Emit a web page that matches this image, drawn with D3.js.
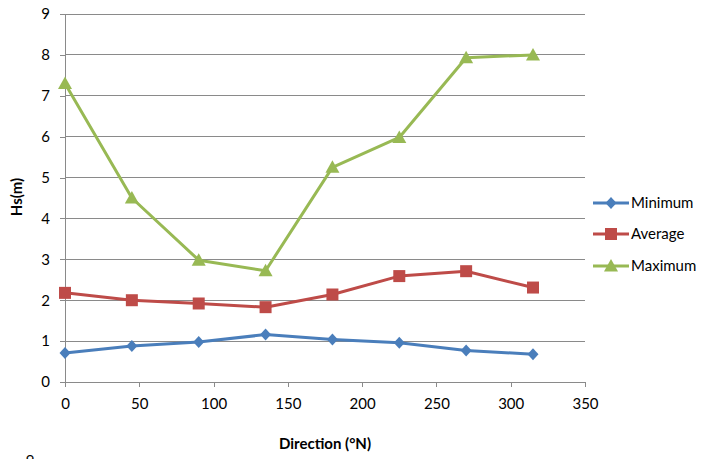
<!DOCTYPE html>
<html>
<head>
<meta charset="utf-8">
<script src="https://cdn.jsdelivr.net/npm/d3@7"></script>
<style>
  html, body { margin: 0; padding: 0; background: #fff; }
  svg { display: block; font-family: Lato, "Open Sans", sans-serif; }
</style>
</head>
<body>
<svg id="chart" width="708" height="459"></svg>
<script>
// Significant wave height by direction
const directions = [0, 45, 90, 135, 180, 225, 270, 315];
const minimum = [0.71, 0.88, 0.98, 1.16, 1.04, 0.96, 0.77, 0.68];
const average = [2.18, 2.00, 1.92, 1.83, 2.14, 2.59, 2.71, 2.31];
const maximum = [7.30, 4.50, 2.98, 2.72, 5.25, 5.98, 7.93, 8.00];
const seriesNames = ["Minimum", "Average", "Maximum"];
const seriesColors = ["#4A7EBB", "#BE4B48", "#98B954"];
const xTicks = [0, 50, 100, 150, 200, 250, 300, 350];
const yTicks = [0, 1, 2, 3, 4, 5, 6, 7, 8, 9];

const svg = d3.select("#chart");
const margin = { left: 65, right: 123, top: 14, bottom: 77 };
const W = 708, H = 459;

const x = d3.scaleLinear().domain([0, 350]).range([margin.left, W - margin.right]);
const y = d3.scaleLinear().domain([0, 9]).range([H - margin.bottom, margin.top]);

// horizontal gridlines
svg.append("g")
  .selectAll("line")
  .data(yTicks.filter(d => d > 0))
  .join("line")
  .attr("x1", x(0)).attr("x2", x(350))
  .attr("y1", d => y(d)).attr("y2", d => y(d))
  .attr("stroke", "#8a8a8a").attr("stroke-width", 1)
  .attr("shape-rendering", "crispEdges");

// axes
const xAxis = svg.append("g")
  .attr("transform", `translate(0,${y(0)})`)
  .call(d3.axisBottom(x).tickValues(xTicks).tickSize(5).tickPadding(11));
const yAxis = svg.append("g")
  .attr("transform", `translate(${x(0)},0)`)
  .call(d3.axisLeft(y).tickValues(yTicks).tickSize(5).tickPadding(10));

[xAxis, yAxis].forEach(g => {
  g.select(".domain").attr("stroke", "#8a8a8a").attr("shape-rendering", "crispEdges");
  g.selectAll(".tick line").attr("stroke", "#8a8a8a").attr("shape-rendering", "crispEdges");
  g.selectAll(".tick text").attr("fill", "#000").style("font-size", "15px")
    .style("font-family", "Lato, 'Open Sans', sans-serif");
});

// axis titles
svg.append("text")
  .attr("x", 325).attr("y", 449)
  .attr("text-anchor", "middle")
  .style("font-size", "15px").style("font-weight", "bold")
  .text("Direction (°N)");
svg.append("text")
  .attr("transform", "translate(22,197) rotate(-90)")
  .attr("text-anchor", "middle")
  .style("font-size", "15px").style("font-weight", "bold")
  .text("Hs(m)");

// marker shapes: diamond, square, triangle
function markerPath(i) {
  if (i === 0) return "M0,-6L5.5,0L0,6L-5.5,0Z";
  if (i === 1) return "M-6,-6H6V6H-6Z";
  return "M0,-7L7,5.5H-7Z";
}

const seriesData = [minimum, average, maximum];
const line = d3.line().x(d => x(d[0])).y(d => y(d[1]));

seriesData.forEach((vals, i) => {
  const pts = directions.map((dv, j) => [dv, vals[j]]);
  const g = svg.append("g");
  g.append("path")
    .attr("d", line(pts))
    .attr("fill", "none")
    .attr("stroke", seriesColors[i])
    .attr("stroke-width", 3)
    .attr("stroke-linejoin", "round");
  g.selectAll("path.m")
    .data(pts)
    .join("path")
    .attr("class", "m")
    .attr("transform", d => `translate(${x(d[0])},${y(d[1])})`)
    .attr("d", markerPath(i))
    .attr("fill", seriesColors[i]);
});

// legend
const legend = svg.append("g");
const legendY = [203, 234, 266];
seriesNames.forEach((name, i) => {
  const ly = legendY[i];
  legend.append("line")
    .attr("x1", 593).attr("x2", 629)
    .attr("y1", ly).attr("y2", ly)
    .attr("stroke", seriesColors[i]).attr("stroke-width", 3);
  legend.append("path")
    .attr("transform", `translate(611,${ly})`)
    .attr("d", markerPath(i))
    .attr("fill", seriesColors[i]);
  legend.append("text")
    .attr("x", 631).attr("y", ly + 5)
    .style("font-size", "15px")
    .text(name);
});

// top of the next panel's axis label peeking in at the bottom edge
svg.append("text")
  .attr("x", 30).attr("y", 466)
  .attr("text-anchor", "middle")
  .style("font-size", "15px")
  .text("9");
</script>
</body>
</html>
